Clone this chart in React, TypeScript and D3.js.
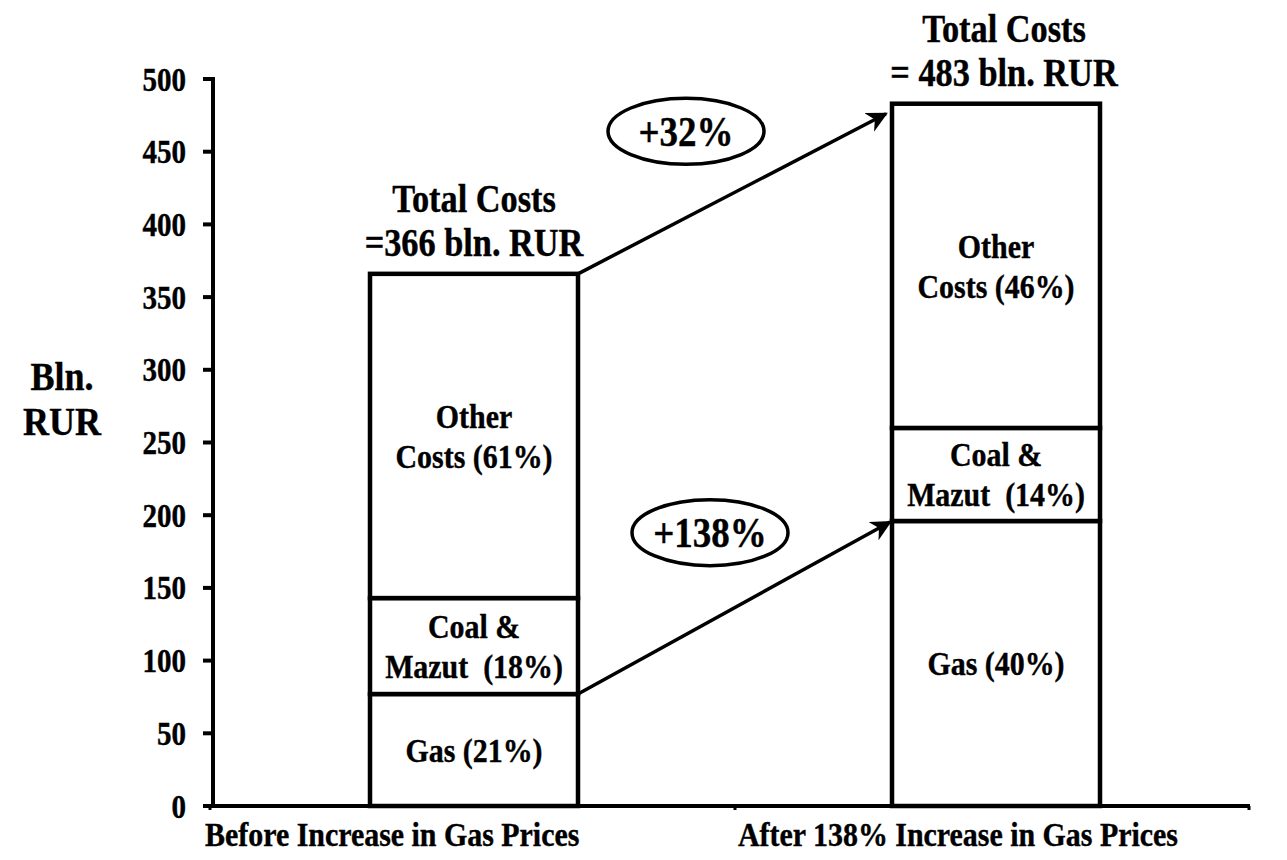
import React from "react";
import * as d3 from "d3";

const categories = ["Before Increase in Gas Prices", "After 138% Increase in Gas Prices"];
const segmentNames = ["Gas", "Coal & Mazut", "Other Costs"];
const gasValues = [77, 196];
const coalValues = [66, 64];
const otherValues = [223, 223];
const totals = [366, 483];
const segmentLabels = [
  [["Gas (21%)"], ["Coal &", "Mazut  (18%)"], ["Other", "Costs (61%)"]],
  [["Gas (40%)"], ["Coal &", "Mazut  (14%)"], ["Other", "Costs (46%)"]],
];
const titleLines = [
  ["Total Costs", "=366 bln. RUR"],
  ["Total Costs", "= 483 bln. RUR"],
];
const yTicks = [0, 50, 100, 150, 200, 250, 300, 350, 400, 450, 500];
const yTitleLines = ["Bln.", "RUR"];
const changeLabels = ["+32%", "+138%"];

const W = 1287;
const H = 860;
const FONT = "'Liberation Serif', 'Times New Roman', serif";

function T(props: { x: number; y: number; size: number; anchor?: string; dy?: string; sx?: number; children: any }) {
  const { x, y, size, anchor = "middle", dy = "0.35em", sx = 0.88, children } = props;
  return (
    <text
      transform={`translate(${x},${y}) scale(${sx},1)`}
      dy={dy}
      textAnchor={anchor}
      fontSize={size}
      fontWeight="bold"
      fill="#000"
      stroke="#000"
      strokeWidth={0.4}
      style={{ whiteSpace: "pre" }}
    >
      {children}
    </text>
  );
}

export default function App() {
  const y = d3.scaleLinear().domain([0, 500]).range([806, 79]);
  const x = d3.scaleBand().domain(categories).range([213, 1257]);
  const barW = 208;
  const cx = (i: number) => (x(categories[i]) as number) + x.bandwidth() / 2;

  const rows = categories.map((c, i) => ({
    cat: c,
    Gas: gasValues[i],
    "Coal & Mazut": coalValues[i],
    "Other Costs": otherValues[i],
  }));
  const stack = d3.stack<any>().keys(segmentNames)(rows);

  const axisY = y(0);
  const yAxisX = 213;

  const b1Right = cx(0) + barW / 2;
  const b2Left = cx(1) - barW / 2;
  const arrows = [
    { x1: b1Right, y1: y(totals[0]), x2: b2Left - 6, y2: y(totals[1]) + 10 },
    { x1: b1Right, y1: y(gasValues[0]), x2: b2Left - 2, y2: y(gasValues[1]) + 1 },
  ];
  const ellipses = [
    { cx: 686, cy: y(464), label: changeLabels[0] },
    { cx: 710, cy: y(188), label: changeLabels[1] },
  ];

  return (
    <svg width={W} height={H} style={{ position: "absolute", left: 0, top: 0, background: "#fff" }} fontFamily={FONT}>
      <defs>
        <marker id="ah" viewBox="0 0 10 10" refX="9" refY="5" markerWidth="6" markerHeight="6" orient="auto" markerUnits="strokeWidth">
          <path d="M0,0 L10,5 L0,10 L3,5 z" fill="#000" />
        </marker>
      </defs>
      <rect x={0} y={0} width={W} height={H} fill="#fff" />

      {/* y axis */}
      <line x1={yAxisX} x2={yAxisX} y1={y(500) - 2} y2={axisY} stroke="#000" strokeWidth={4} />
      {yTicks.map((t) => (
        <g key={t}>
          <line x1={yAxisX - 10} x2={yAxisX} y1={y(t)} y2={y(t)} stroke="#000" strokeWidth={4} />
          <T x={186} y={y(t)} size={33} anchor="end">{String(t)}</T>
        </g>
      ))}

      {/* y axis title */}
      {yTitleLines.map((ln, k) => (
        <T key={ln} x={62} y={376 + k * 45} size={40} sx={0.9}>{ln}</T>
      ))}

      {/* bars */}
      {stack.map((layer, li) =>
        layer.map((d, i) => (
          <rect key={`${li}-${i}`} x={cx(i) - barW / 2} y={y(d[1])} width={barW} height={y(d[0]) - y(d[1])} fill="#fff" stroke="#000" strokeWidth={4.5} />
        ))
      )}
      {stack.map((layer, li) =>
        layer.map((d, i) => {
          const lines = segmentLabels[i][li];
          const mid = (y(d[0]) + y(d[1])) / 2;
          const lh = 40;
          return lines.map((ln, k) => (
            <T key={`${li}-${i}-${k}`} x={cx(i)} y={mid + (k - (lines.length - 1) / 2) * lh} size={34}>
              {ln}
            </T>
          ));
        })
      )}

      {/* x axis */}
      <line x1={208} x2={1250} y1={axisY} y2={axisY} stroke="#000" strokeWidth={4} />
      {[210, x(categories[1]) as number, 1249].map((tx, i) => (
        <line key={i} x1={tx} x2={tx} y1={axisY} y2={axisY + 4} stroke="#000" strokeWidth={3} />
      ))}
      <T x={205} y={846} size={34} anchor="start" dy="0">{categories[0]}</T>
      <T x={738} y={846} size={34} anchor="start" dy="0">{categories[1]}</T>

      {/* titles */}
      {titleLines.map((lines, i) =>
        lines.map((ln, k) => (
          <T key={`${i}-${k}`} x={i === 0 ? cx(0) : cx(1) + 8} y={y(totals[i]) - 62 + k * 44} size={39} dy="0">
            {ln}
          </T>
        ))
      )}

      {/* arrows */}
      {arrows.map((a, i) => (
        <line key={i} x1={a.x1} y1={a.y1} x2={a.x2} y2={a.y2} stroke="#000" strokeWidth={3.5} markerEnd="url(#ah)" />
      ))}

      {/* ellipses */}
      {ellipses.map((e, i) => (
        <g key={i}>
          <ellipse cx={e.cx} cy={e.cy} rx={78} ry={33} fill="#fff" stroke="#000" strokeWidth={3.5} />
          <T x={e.cx} y={e.cy} size={42}>{e.label}</T>
        </g>
      ))}
    </svg>
  );
}
